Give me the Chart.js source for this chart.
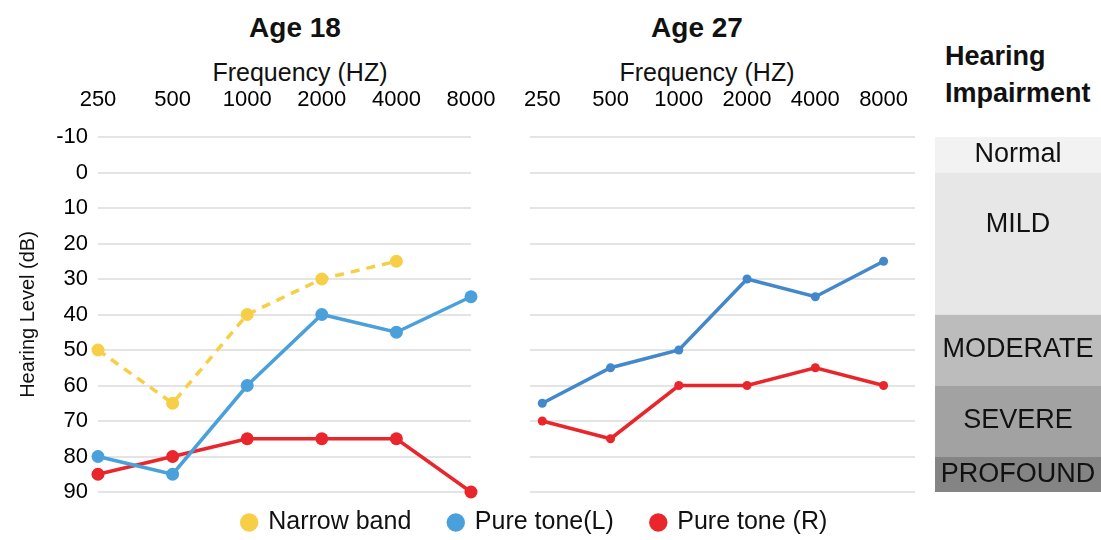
<!DOCTYPE html>
<html lang="en">
<head>
  <meta charset="UTF-8">
  <title>Hearing Level</title>
  <style>
    body {
      margin: 0;
      padding: 0;
      background: #ffffff;
      font-family: "Liberation Sans", Arial, sans-serif;
      color: #111;
    }
    .page {
      position: relative;
      width: 1101px;
      height: 540px;
      overflow: hidden;
    }
    .box {
      position: absolute;
    }
    .title {
      position: absolute;
      text-align: center;
      white-space: nowrap;
    }
    .age {
      font-size: 28px;
      font-weight: bold;
      width: 200px;
      line-height: 32px;
      top: 12px;
    }
    .freq {
      font-size: 25px;
      width: 240px;
      line-height: 28px;
      top: 58px;
    }
    .impair {
      position: absolute;
      left: 945px;
      top: 38px;
      font-size: 27px;
      font-weight: bold;
      line-height: 37px;
    }
  </style>
</head>
<body>
  <div class="page">
    <div class="title age" style="left:195px">Age 18</div>
    <div class="title freq" style="left:180px">Frequency (HZ)</div>
    <div class="title age" style="left:597px">Age 27</div>
    <div class="title freq" style="left:587px">Frequency (HZ)</div>
    <div class="impair">Hearing<br>Impairment</div>

    <div class="box" style="left:0; top:0"><canvas id="age18Chart" width="500" height="500"></canvas></div>
    <div class="box" style="left:500px; top:0"><canvas id="age27Chart" width="420" height="500"></canvas></div>
    <div class="box" style="left:935px; top:0"><canvas id="impairChart" width="166" height="500"></canvas></div>
    <div class="box" style="left:0; top:472px"><canvas id="legendChart" width="1070" height="160"></canvas></div>
  </div>

  <script src="https://cdn.jsdelivr.net/npm/chart.js"></script>
  <script>
    // frequencies (Hz) and hearing levels (dB)
    const freqLabels = ['250', '500', '1000', '2000', '4000', '8000'];

    const age18Narrow = [50, 65, 40, 30, 25, null];
    const age18Left = [80, 85, 60, 40, 45, 35];
    const age18Right = [85, 80, 75, 75, 75, 90];

    const age27Left = [65, 55, 50, 30, 35, 25];
    const age27Right = [70, 75, 60, 60, 55, 60];

    const impairLabels = ['Normal', 'MILD', 'MODERATE', 'SEVERE', 'PROFOUND'];
    const impairRanges = [[-10, 0], [0, 40], [40, 60], [60, 80], [80, 90]];

    const legendLabels = ['Narrow band', 'Pure tone(L)', 'Pure tone (R)'];

    const yMin = -10;
    const yMax = 90;

    const yellow = '#f7cf47';
    const blue = '#4aa0da';
    const blue27 = '#4288cb';
    const red = '#e8262b';
    const gridColor = '#e4e4e4';
    const bandColors = ['#f2f2f2', '#e7e7e7', '#bcbcbc', '#a2a2a2', '#848484'];

    Chart.defaults.font.family = "'Liberation Sans', Arial, sans-serif";
    Chart.defaults.color = '#111';
    Chart.defaults.animation = false;

    function lineSet(label, data, color, radius, dashed) {
      return {
        label: label,
        data: data,
        borderColor: color,
        backgroundColor: color,
        pointBackgroundColor: color,
        pointBorderWidth: 0,
        pointRadius: radius,
        borderWidth: 3.5,
        borderDash: dashed ? [9, 7] : [],
        tension: 0,
        clip: false,
        spanGaps: false
      };
    }

    // keep tick labels from pushing the plot area in
    function noPad(s) {
      s.paddingTop = 0;
      s.paddingBottom = 0;
      s.paddingLeft = 0;
      s.paddingRight = 0;
    }

    // Age 18
    new Chart(document.getElementById('age18Chart'), {
      type: 'line',
      data: {
        labels: freqLabels,
        datasets: [
          lineSet(legendLabels[0], age18Narrow, yellow, 6.5, true),
          lineSet(legendLabels[1], age18Left, blue, 6.5, false),
          lineSet(legendLabels[2], age18Right, red, 6.5, false)
        ]
      },
      options: {
        responsive: false,
        layout: { padding: { top: 0, right: 29, bottom: 8, left: 0 } },
        plugins: { legend: { display: false }, tooltip: { enabled: false } },
        scales: {
          x: {
            position: 'top',
            offset: false,
            grid: { display: false },
            border: { display: false },
            ticks: { font: { size: 22 }, color: '#000', padding: 16, maxRotation: 0, autoSkip: false },
            afterFit: (s) => { s.height = 137; noPad(s); }
          },
          y: {
            type: 'linear',
            min: yMin,
            max: yMax,
            reverse: true,
            border: { display: false },
            grid: { color: gridColor, lineWidth: 2, drawTicks: false },
            ticks: { stepSize: 10, font: { size: 22 }, color: '#000', padding: 10 },
            title: {
              display: true,
              text: 'Hearing Level (dB)',
              font: { size: 20 },
              padding: { top: 16, bottom: 0 }
            },
            afterFit: (s) => { s.width = 98; noPad(s); }
          }
        }
      }
    });

    // Age 27 - linear x so the grid runs a bit past the first and last points
    function toPoints(values) {
      return values.map((v, i) => ({ x: i, y: v }));
    }

    new Chart(document.getElementById('age27Chart'), {
      type: 'line',
      data: {
        datasets: [
          lineSet(legendLabels[1], toPoints(age27Left), blue27, 4.5, false),
          lineSet(legendLabels[2], toPoints(age27Right), red, 4.5, false)
        ]
      },
      options: {
        responsive: false,
        layout: { padding: { top: 0, right: 5, bottom: 8, left: 30 } },
        plugins: { legend: { display: false }, tooltip: { enabled: false } },
        scales: {
          x: {
            type: 'linear',
            position: 'top',
            min: -0.18,
            max: 5.46,
            grid: { display: false },
            border: { display: false },
            afterBuildTicks: (s) => { s.ticks = freqLabels.map((_, i) => ({ value: i })); },
            ticks: {
              font: { size: 22 },
              color: '#000',
              padding: 16,
              maxRotation: 0,
              autoSkip: false,
              callback: (v) => freqLabels[v]
            },
            afterFit: (s) => { s.height = 137; noPad(s); }
          },
          y: {
            type: 'linear',
            min: yMin,
            max: yMax,
            reverse: true,
            border: { display: false },
            grid: { color: gridColor, lineWidth: 2, drawTicks: false },
            ticks: { stepSize: 10, display: false },
            afterFit: (s) => { s.width = 0; noPad(s); }
          }
        }
      }
    });

    // Hearing impairment bands as floating bars
    const bandText = {
      id: 'bandText',
      afterDatasetsDraw(chart) {
        const ctx = chart.ctx;
        ctx.save();
        ctx.font = "27px 'Liberation Sans', Arial, sans-serif";
        ctx.fillStyle = '#111';
        ctx.textAlign = 'center';
        ctx.textBaseline = 'middle';
        chart.data.datasets.forEach((ds, i) => {
          const bar = chart.getDatasetMeta(i).data[0];
          const top = Math.min(bar.y, bar.base);
          const h = Math.abs(bar.base - bar.y);
          ctx.fillText(ds.label, bar.x, top + Math.min(h / 2, 52));
        });
        ctx.restore();
      }
    };

    new Chart(document.getElementById('impairChart'), {
      type: 'bar',
      data: {
        labels: ['band'],
        datasets: impairLabels.map((name, i) => ({
          label: name,
          data: [impairRanges[i]],
          backgroundColor: bandColors[i],
          borderWidth: 0,
          barPercentage: 1,
          categoryPercentage: 1,
          grouped: false
        }))
      },
      options: {
        responsive: false,
        layout: { padding: { top: 137, right: 0, bottom: 8, left: 0 } },
        plugins: { legend: { display: false }, tooltip: { enabled: false } },
        scales: {
          x: { display: false },
          y: { type: 'linear', min: yMin, max: yMax, reverse: true, display: false }
        }
      },
      plugins: [bandText]
    });

    // shared legend under both audiograms (canvas is tall so the legend box isn't clipped)
    new Chart(document.getElementById('legendChart'), {
      type: 'line',
      data: {
        labels: freqLabels,
        datasets: [
          lineSet(legendLabels[0], [], yellow, 6, true),
          lineSet(legendLabels[1], [], blue, 6, false),
          lineSet(legendLabels[2], [], red, 6, false)
        ]
      },
      options: {
        responsive: false,
        plugins: {
          tooltip: { enabled: false },
          legend: {
            display: true,
            position: 'top',
            labels: {
              usePointStyle: true,
              pointStyle: 'circle',
              boxWidth: 13,
              boxHeight: 13,
              padding: 38,
              font: { size: 25 },
              color: '#111'
            }
          }
        },
        scales: { x: { display: false }, y: { display: false } }
      }
    });
  </script>
</body>
</html>
